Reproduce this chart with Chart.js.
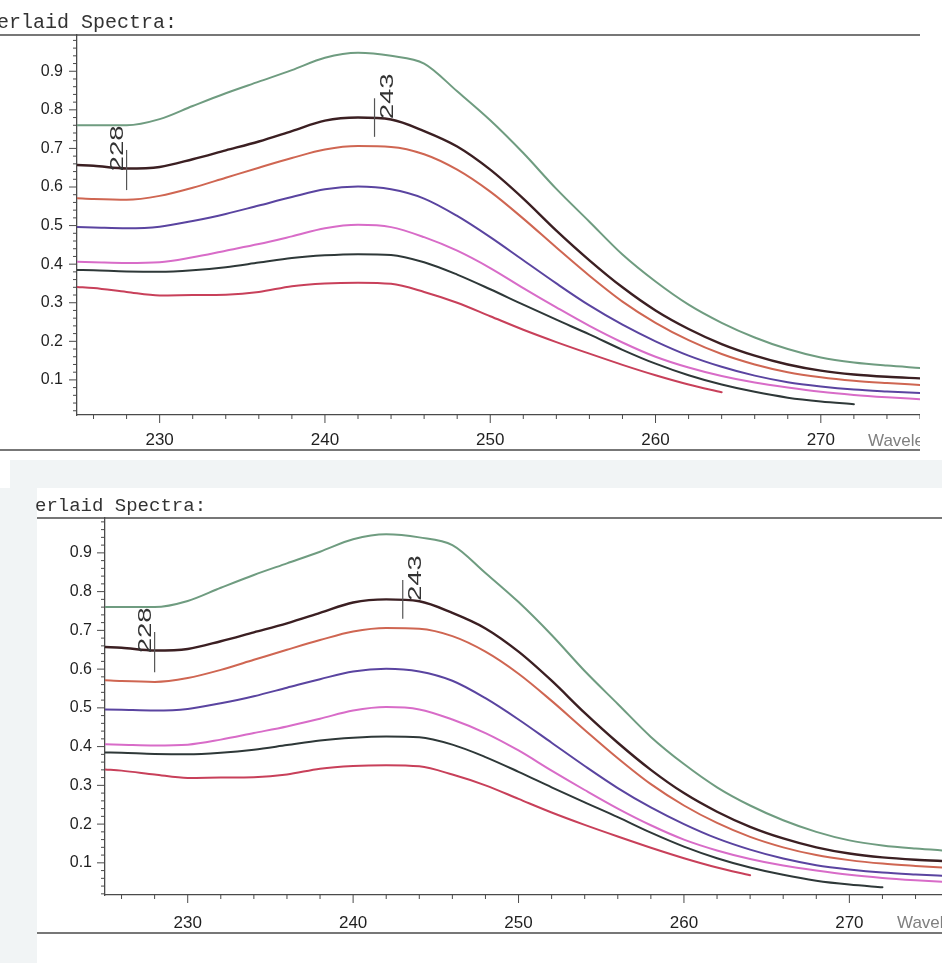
<!DOCTYPE html>
<html>
<head>
<meta charset="utf-8">
<script src="https://cdn.jsdelivr.net/npm/chart.js@4/dist/chart.umd.min.js"></script>
<style>
  body { margin: 0; background: #fff; width: 942px; height: 963px; position: relative; overflow: hidden; }
  canvas { position: absolute; left: 0; }
  #topChart { top: 0; }
  #bottomChart { top: 460px; }
</style>
</head>
<body>
<canvas id="topChart" width="920" height="460"></canvas>
<canvas id="bottomChart" width="942" height="503"></canvas>
<script>
// wavelength grid (nm) shared by all traces
const wavelengths = [225, 226, 228, 230, 232, 234, 236, 238, 240, 242, 244, 246, 248, 250,
  252, 254, 256, 258, 260, 262, 264, 266, 268, 270, 272, 274, 276];

// absorbance, top trace to bottom trace
const greenTrace  = [0.760, 0.760, 0.760, 0.776, 0.810, 0.843, 0.873, 0.903, 0.935, 0.948, 0.940, 0.920, 0.848, 0.773,
  0.688, 0.595, 0.510, 0.425, 0.355, 0.295, 0.248, 0.210, 0.180, 0.158, 0.145, 0.137, 0.131];
const maroonTrace = [0.657, 0.655, 0.648, 0.652, 0.672, 0.695, 0.718, 0.745, 0.772, 0.780, 0.775, 0.745, 0.705, 0.645,
  0.570, 0.487, 0.410, 0.340, 0.280, 0.232, 0.193, 0.163, 0.140, 0.124, 0.114, 0.108, 0.104];
const orangeTrace = [0.571, 0.569, 0.567, 0.577, 0.598, 0.624, 0.650, 0.675, 0.697, 0.706, 0.704, 0.685, 0.645, 0.588,
  0.518, 0.443, 0.370, 0.303, 0.248, 0.203, 0.167, 0.140, 0.120, 0.107, 0.098, 0.092, 0.087];
const purpleTrace = [0.496, 0.495, 0.493, 0.497, 0.512, 0.530, 0.552, 0.574, 0.594, 0.601, 0.594, 0.570, 0.525, 0.470,
  0.410, 0.350, 0.293, 0.243, 0.200, 0.163, 0.134, 0.111, 0.094, 0.083, 0.075, 0.070, 0.066];
const pinkTrace   = [0.406, 0.405, 0.403, 0.405, 0.418, 0.435, 0.452, 0.472, 0.493, 0.502, 0.496, 0.470, 0.435, 0.390,
  0.338, 0.288, 0.240, 0.197, 0.160, 0.132, 0.110, 0.093, 0.080, 0.069, 0.061, 0.055, 0.050];
const blackTrace  = [0.385, 0.384, 0.381, 0.380, 0.384, 0.392, 0.404, 0.416, 0.423, 0.426, 0.424, 0.405, 0.373, 0.335,
  0.295, 0.256, 0.218, 0.178, 0.142, 0.112, 0.088, 0.069, 0.054, 0.044, 0.037, null, null];
const redTrace    = [0.341, 0.338, 0.328, 0.319, 0.320, 0.321, 0.328, 0.343, 0.350, 0.352, 0.349, 0.328, 0.300, 0.265,
  0.230, 0.198, 0.168, 0.139, 0.112, 0.088, 0.068, null, null, null, null, null, null];

const xTickValues = [230, 240, 250, 260, 270];
const yTickValues = [0.1, 0.2, 0.3, 0.4, 0.5, 0.6, 0.7, 0.8, 0.9];
const peakWavelengths = [228, 243];
const peakLabels = ["228", "243"];
const titleText = "erlaid Spectra:";
const axisTitle = "Wavelength";

const traces = [
  { data: greenTrace,  color: "#6f9c80", width: 2 },
  { data: maroonTrace, color: "#3b1f22", width: 2.4 },
  { data: orangeTrace, color: "#cf6652", width: 2 },
  { data: purpleTrace, color: "#5a44a0", width: 2 },
  { data: pinkTrace,   color: "#d86cc8", width: 2 },
  { data: blackTrace,  color: "#2e3838", width: 2 },
  { data: redTrace,    color: "#c8405a", width: 2 }
];

function line(ctx, x1, y1, x2, y2) {
  ctx.beginPath();
  ctx.moveTo(x1, y1);
  ctx.lineTo(x2, y2);
  ctx.stroke();
}

const decor = {
  id: "decor",
  beforeDraw(chart, args, o) {
    const ctx = chart.ctx;
    if (!o.shade) return;
    ctx.save();
    ctx.fillStyle = "#f1f4f5";
    o.shade.forEach(r => ctx.fillRect(r[0], r[1], r[2], r[3]));
    ctx.restore();
  },
  afterDraw(chart, args, o) {
    const ctx = chart.ctx;
    const a = chart.chartArea;
    const x = chart.scales.x, y = chart.scales.y;
    ctx.save();
    ctx.strokeStyle = "#4a4a4a";
    ctx.lineWidth = 1.3;
    line(ctx, o.frameLeft, a.top, chart.width, a.top);
    line(ctx, o.frameLeft, o.ruleY, chart.width, o.ruleY);

    // minor + major ticks
    ctx.lineWidth = 1;
    for (let v = 226; v <= 276; v += 2) {
      const px = x.getPixelForValue(v);
      if (px > a.right + 0.5) continue;
      line(ctx, px, a.bottom, px, a.bottom + (v % 10 === 0 ? 8 : 4));
    }
    for (let i = 1; i <= 49; i++) {
      const py = y.getPixelForValue(i * 0.02);
      if (py < a.top || py > a.bottom) continue;
      line(ctx, a.left - (i % 5 === 0 ? 8 : 4), py, a.left, py);
    }

    // title
    ctx.fillStyle = "#333";
    ctx.font = o.titleSize + 'px "Liberation Mono", "DejaVu Sans Mono", monospace';
    ctx.textBaseline = "alphabetic";
    ctx.fillText(titleText, o.titleX, o.titleY);

    // axis title, cut off by the page edge
    ctx.fillStyle = "#808080";
    ctx.font = '17px "Liberation Sans", Arial, sans-serif';
    ctx.textBaseline = "middle";
    ctx.fillText(axisTitle, o.axisTitleX, o.axisTitleY);

    // peak markers
    peakWavelengths.forEach((w, i) => {
      const m = o.markers[i];
      const px = x.getPixelForValue(w);
      ctx.strokeStyle = "#555";
      ctx.lineWidth = 1.2;
      line(ctx, px, y.getPixelForValue(m.hi), px, y.getPixelForValue(m.lo));
      const tx = m.side === "left" ? px - 4 : px + 18;
      ctx.save();
      ctx.translate(tx, y.getPixelForValue(m.mid));
      ctx.rotate(-Math.PI / 2);
      ctx.scale(1.45, 1);
      ctx.fillStyle = "#333";
      ctx.font = '19px "Liberation Sans", Arial, sans-serif';
      ctx.textAlign = "center";
      ctx.textBaseline = "alphabetic";
      ctx.fillText(peakLabels[i], 0, 0);
      ctx.restore();
    });
    ctx.restore();
  }
};

function makePanel(id, p) {
  return new Chart(document.getElementById(id), {
    type: "line",
    data: {
      datasets: traces.map(t => ({
        data: t.data.map((v, i) => ({ x: wavelengths[i], y: v })),
        borderColor: t.color,
        borderWidth: t.width,
        fill: false,
        spanGaps: false
      }))
    },
    options: {
      responsive: false,
      animation: false,
      devicePixelRatio: 1,
      layout: { padding: { top: p.top, left: 0, right: 0, bottom: 0 } },
      elements: {
        point: { radius: 0 },
        line: { cubicInterpolationMode: "monotone", borderCapStyle: "round" }
      },
      plugins: {
        legend: { display: false },
        tooltip: { enabled: false },
        decor: p
      },
      scales: {
        x: {
          type: "linear",
          min: 225,
          max: p.xMax,
          afterBuildTicks: s => { s.ticks = xTickValues.map(v => ({ value: v })); },
          afterFit: s => { s.height = p.xAxisHeight; },
          grid: { display: false, drawTicks: false },
          border: { display: true, color: "#4a4a4a", width: 1.3 },
          ticks: {
            padding: p.xPad,
            maxRotation: 0,
            autoSkip: false,
            color: "#1f1f1f",
            font: { family: '"Liberation Sans", Arial, sans-serif', size: 17 }
          }
        },
        y: {
          type: "linear",
          min: p.yMin,
          max: p.yMax,
          afterBuildTicks: s => { s.ticks = yTickValues.map(v => ({ value: v })); },
          afterFit: s => { s.width = p.yAxisWidth; },
          grid: { display: false, drawTicks: false },
          border: { display: true, color: "#4a4a4a", width: 1.3 },
          ticks: {
            padding: p.yPad,
            color: "#1f1f1f",
            font: { family: '"Liberation Sans", Arial, sans-serif', size: 16 },
            callback: v => v.toFixed(1)
          }
        }
      }
    },
    plugins: [decor]
  });
}

const markerSpans = [
  { lo: 0.592, hi: 0.696, mid: 0.70, side: "left" },
  { lo: 0.73, hi: 0.83, mid: 0.835, side: "right" }
];

makePanel("topChart", {
  top: 35, xMax: 276, yMin: 0.009, yMax: 0.994,
  yAxisWidth: 77, xAxisHeight: 45, xPad: 15, yPad: 14,
  frameLeft: 0, ruleY: 450,
  titleX: -3, titleY: 28, titleSize: 20,
  axisTitleX: 868, axisTitleY: 441,
  markers: markerSpans
});

makePanel("bottomChart", {
  top: 58, xMax: 275.6, yMin: 0.017, yMax: 0.99,
  yAxisWidth: 105, xAxisHeight: 68, xPad: 18, yPad: 13,
  frameLeft: 37, ruleY: 473,
  titleX: 35, titleY: 51, titleSize: 19,
  axisTitleX: 897, axisTitleY: 463,
  markers: markerSpans,
  shade: [[10, 0, 932, 28], [0, 28, 37, 475]]
});
</script>
</body>
</html>
